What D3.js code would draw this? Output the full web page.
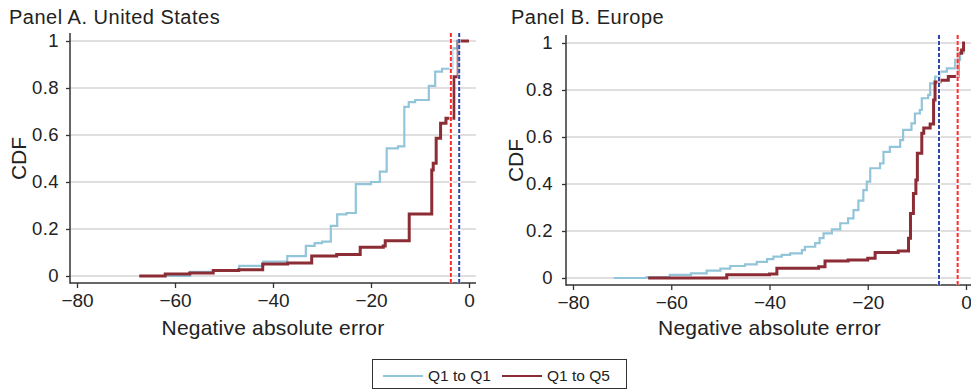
<!DOCTYPE html>
<html>
<head>
<meta charset="utf-8">
<script src="https://cdn.jsdelivr.net/npm/d3@7"></script>
<style>
  body { margin: 0; background: #fff; }
  text { font-family: 'Liberation Sans', Arial, sans-serif; fill: #222; }
</style>
</head>
<body>
<div id="chart"></div>
<script>
const xTicks = [-80, -60, -40, -20, 0]
const yTicks = [0, 0.2, 0.4, 0.6, 0.8, 1]
const seriesNames = ['Q1 to Q1', 'Q1 to Q5']

// [negative absolute error, CDF] at each step
const usQ1Q1 = [
  [-61.7, 0], [-56.9, 0.018], [-52.2, 0.025], [-46.9, 0.043], [-42, 0.061],
  [-37.1, 0.085], [-33.3, 0.128], [-31.5, 0.14], [-30, 0.146], [-28.2, 0.213],
  [-26.9, 0.262], [-25, 0.268], [-23.1, 0.391], [-20, 0.4], [-18.2, 0.444],
  [-16.8, 0.543], [-14.5, 0.552], [-13.2, 0.72], [-12.3, 0.74], [-11, 0.749],
  [-8.2, 0.809], [-6.9, 0.87], [-5.5, 0.882], [-3.4, 0.969], [-2.4, 1], [-1.5, 1]
]
const usQ1Q5 = [
  [-67.3, 0], [-62, 0.008], [-57, 0.013], [-52.2, 0.023], [-47, 0.027],
  [-42.1, 0.051], [-37, 0.055], [-32.1, 0.085], [-27, 0.091], [-22.2, 0.122],
  [-17.5, 0.128], [-17.1, 0.15], [-12.2, 0.264], [-7.6, 0.451], [-7.3, 0.48],
  [-6.7, 0.586], [-5.8, 0.65], [-4.7, 0.671], [-3.1, 0.848], [-2.2, 1], [0, 1]
]
const euQ1Q1 = [
  [-71.7, 0], [-65, 0.004], [-60.3, 0.013], [-56, 0.02], [-52.8, 0.031],
  [-50, 0.04], [-48, 0.051], [-45, 0.058], [-42.6, 0.069], [-40.5, 0.08],
  [-39.2, 0.091], [-37.5, 0.098], [-35.8, 0.105], [-33.4, 0.119], [-32.8, 0.133],
  [-30.7, 0.148], [-29.8, 0.17], [-29, 0.19], [-27.3, 0.207], [-25.6, 0.233],
  [-24, 0.254], [-22.9, 0.289], [-21.9, 0.329], [-20.9, 0.374], [-20.2, 0.41],
  [-19.5, 0.467], [-17.5, 0.488], [-16.8, 0.537], [-15.5, 0.558], [-13.4, 0.587],
  [-12.8, 0.63], [-11.1, 0.658], [-10.4, 0.7], [-9.4, 0.715], [-9, 0.765],
  [-7.7, 0.779], [-7.3, 0.828], [-6.3, 0.857], [-5.3, 0.878], [-3.9, 0.892],
  [-2.2, 0.928], [-1.2, 0.959], [-0.5, 1], [-0.3, 1]
]
const euQ1Q5 = [
  [-64.7, 0], [-48.7, 0.014], [-40, 0.017], [-38.5, 0.041], [-30, 0.048],
  [-28.7, 0.072], [-24, 0.077], [-20, 0.084], [-18.5, 0.108], [-13.8, 0.115],
  [-11.7, 0.169], [-11.3, 0.275], [-10.7, 0.36], [-10.2, 0.417], [-9.9, 0.531],
  [-9, 0.616], [-8.6, 0.638], [-7.3, 0.655], [-6.6, 0.757], [-6.3, 0.834],
  [-5.3, 0.841], [-3.6, 0.857], [-1.6, 0.956], [-0.9, 0.97], [-0.5, 1], [-0.2, 1]
]
// vertical dashed reference lines: [red, navy]
const usRefLines = [-3.7, -2.0]
const euRefLines = [-1.7, -5.5]

const width = 971
const height = 390
const lineColors = ['#93c5da', '#8c2d36']
const refColors = ['#ff2a2a', '#2f47a6']

const svg = d3
  .select('#chart')
  .append('svg')
  .attr('width', width)
  .attr('height', height)

svg.append('rect').attr('width', width).attr('height', height).attr('fill', '#fff')

const panels = [
  {
    title: 'Panel A. United States',
    titleX: 9,
    frame: { left: 70, right: 476, top: 33, bottom: 283 },
    xRange: [77, 469],
    yRange: [276, 41],
    labelEnd: 59,
    cdfX: 26,
    series: [usQ1Q1, usQ1Q5],
    refs: usRefLines
  },
  {
    title: 'Panel B. Europe',
    titleX: 511,
    frame: { left: 566, right: 971, top: 35, bottom: 285 },
    xRange: [573, 966],
    yRange: [278, 43],
    labelEnd: 553,
    cdfX: 523,
    series: [euQ1Q1, euQ1Q5],
    refs: euRefLines
  }
]

panels.forEach(function(p) {
  const x = d3.scaleLinear().domain([-80, 0]).range(p.xRange)
  const y = d3.scaleLinear().domain([0, 1]).range(p.yRange)
  const f = p.frame
  const g = svg.append('g')

  // gridlines
  g.selectAll('.grid')
    .data(yTicks)
    .enter()
    .append('line')
    .attr('x1', f.left)
    .attr('x2', f.right)
    .attr('y1', d => y(d))
    .attr('y2', d => y(d))
    .attr('stroke', '#d4d4d4')
    .attr('stroke-width', 1.4)

  // y axis
  const yAxis = g.append('g')
    .attr('transform', 'translate(' + f.left + ',0)')
    .call(d3.axisLeft(y).tickValues(yTicks).tickFormat(d3.format('~g')).tickSize(4).tickPadding(f.left - p.labelEnd - 4))
  yAxis.select('.domain').remove()
  yAxis.selectAll('line').attr('stroke', '#333').attr('stroke-width', 1.3)
  yAxis.selectAll('text')
    .attr('font-size', 18.5)
    .attr('letter-spacing', 0.4)
    .attr('fill', '#222')
    .attr('font-family', "'Liberation Sans', Arial, sans-serif")

  // x axis
  const xAxis = g.append('g')
    .attr('transform', 'translate(0,' + f.bottom + ')')
    .call(d3.axisBottom(x).tickValues(xTicks).tickSize(5).tickPadding(5.5))
  xAxis.select('.domain').remove()
  xAxis.selectAll('line').attr('stroke', '#333').attr('stroke-width', 1.3)
  xAxis.selectAll('text')
    .attr('font-size', 19)
    .attr('fill', '#222')
    .attr('font-family', "'Liberation Sans', Arial, sans-serif")

  g.append('line')
    .attr('x1', f.left).attr('x2', f.left)
    .attr('y1', f.top).attr('y2', f.bottom + 0.7)
    .attr('stroke', '#333').attr('stroke-width', 1.5)
  g.append('line')
    .attr('x1', f.left).attr('x2', f.right)
    .attr('y1', f.bottom).attr('y2', f.bottom)
    .attr('stroke', '#333').attr('stroke-width', 1.5)

  // step CDF lines
  const line = d3.line()
    .x(d => x(d[0]))
    .y(d => y(d[1]))
    .curve(d3.curveStepAfter)

  p.series.forEach(function(s, i) {
    g.append('path')
      .datum(s)
      .attr('d', line)
      .attr('fill', 'none')
      .attr('stroke', lineColors[i])
      .attr('stroke-width', i === 0 ? 2.2 : 3)
  })

  // dashed reference lines
  p.refs.forEach(function(v, i) {
    g.append('line')
      .attr('x1', x(v)).attr('x2', x(v))
      .attr('y1', f.top).attr('y2', f.bottom)
      .attr('stroke', '#fff')
      .attr('stroke-width', 3.5)
      .attr('opacity', 0.7)
    g.append('line')
      .attr('x1', x(v)).attr('x2', x(v))
      .attr('y1', f.top).attr('y2', f.bottom)
      .attr('stroke', refColors[i])
      .attr('stroke-width', 2)
      .attr('stroke-dasharray', '4,2')
  })

  // titles
  g.append('text')
    .attr('x', p.titleX)
    .attr('y', 24)
    .attr('font-size', 20)
    .attr('letter-spacing', 0.5)
    .text(p.title)

  g.append('text')
    .attr('x', (x(-80) + x(0)) / 2)
    .attr('y', 335)
    .attr('text-anchor', 'middle')
    .attr('font-size', 21)
    .attr('letter-spacing', 0.2)
    .text('Negative absolute error')

  g.append('text')
    .attr('transform', 'translate(' + p.cdfX + ',' + (y(0) + y(1)) / 2 + ') rotate(-90)')
    .attr('text-anchor', 'middle')
    .attr('font-size', 21)
    .text('CDF')
})

// legend
const legend = svg.append('g')
legend.append('rect')
  .attr('x', 372.5)
  .attr('y', 359.5)
  .attr('width', 254)
  .attr('height', 29)
  .attr('fill', '#fff')
  .attr('stroke', '#333')
  .attr('stroke-width', 1)

const legendX = [383, 502]
seriesNames.forEach(function(name, i) {
  legend.append('line')
    .attr('x1', legendX[i]).attr('x2', legendX[i] + 40)
    .attr('y1', 376).attr('y2', 376)
    .attr('stroke', lineColors[i])
    .attr('stroke-width', 2)
  legend.append('text')
    .attr('x', legendX[i] + 45)
    .attr('y', 381)
    .attr('font-size', 15.5)
    .text(name)
})
</script>
</body>
</html>
